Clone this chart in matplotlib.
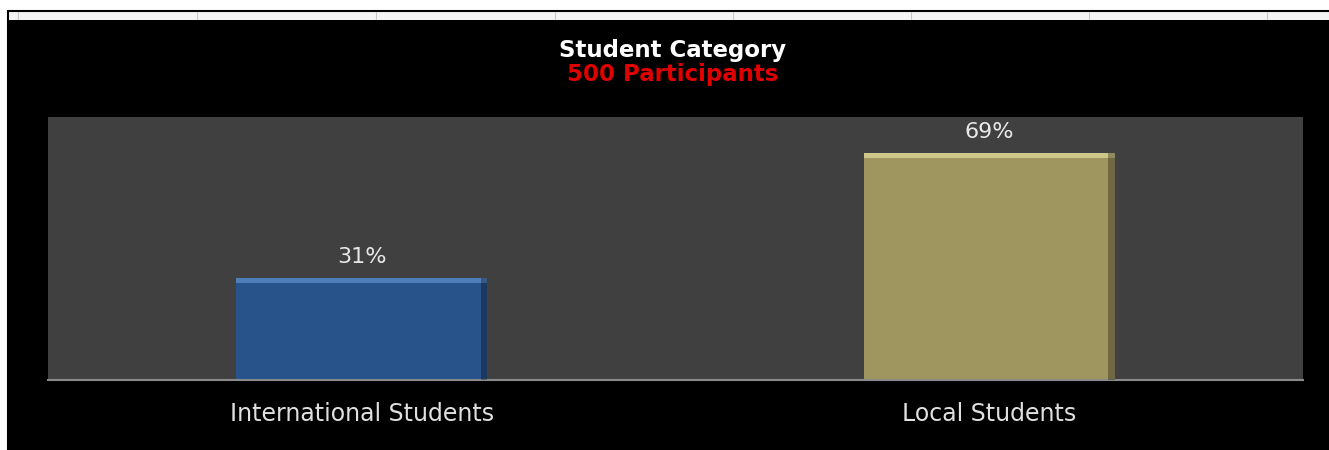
import numpy as np
import matplotlib.pyplot as plt
from matplotlib.patches import Rectangle
from matplotlib.lines import Line2D

categories = ["International Students", "Local Students"]
shares = [31, 69]
bar_colors = ["#27538a", "#9f955e"]
bevel_colors = ["#4f7fbb", "#cfc68a"]
title = "Student Category"
subtitle = "500 Participants"

W, H = 1329, 450
plt.rcParams['font.family'] = ['DejaVu Sans']

fig = plt.figure(figsize=(W / 100, H / 100), dpi=100)
fig.patch.set_facecolor("white")

# sheet strip at top with cell gridlines, then the black chart frame
fig.patches.append(Rectangle((8 / W, 0), 1, (H - 11) / H, transform=fig.transFigure,
                             facecolor="#f4f4f4", edgecolor="black", lw=1.5, zorder=-3))
for gx in [18, 197, 376, 555, 733, 911, 1089, 1267]:
    fig.lines.append(Line2D([gx / W, gx / W], [(H - 19) / H, (H - 12) / H],
                            transform=fig.transFigure, color="#c8c8c8", lw=0.8, zorder=-2))
fig.patches.append(Rectangle((9 / W, 0), 1, (H - 20) / H, transform=fig.transFigure,
                             facecolor="black", edgecolor="none", zorder=-1))

ax = fig.add_axes([48 / W, (H - 380) / H, (1303 - 48) / W, (380 - 117) / H])
ax.set_zorder(1)
ax.set_facecolor("#404040")

x = np.arange(len(categories))
width = 0.4
ax.bar(x, shares, width=width, color=bar_colors, edgecolor="none", zorder=2)
# bevelled top edge and darker right side
ax.bar(x, [1.6] * len(x), bottom=np.array(shares) - 1.6, width=width,
       color=bevel_colors, edgecolor="none", zorder=3)
ax.bar(x + width / 2 - 0.005, shares, width=0.01, color="black", alpha=0.3,
       edgecolor="none", zorder=3)

for xi, v in zip(x, shares):
    ax.text(xi, v + 3.5, f"{v}%", ha="center", va="bottom", color="#e8e8e8", fontsize=16)

ax.set_xlim(-0.5, 1.5)
ax.set_ylim(0, 80)
ax.set_yticks([])
ax.set_xticks(x)
ax.set_xticklabels(categories, color="#e0e0e0", fontsize=17)
ax.tick_params(axis="x", length=0, pad=16)
for side in ["top", "right", "left"]:
    ax.spines[side].set_visible(False)
ax.spines["bottom"].set_color("#8a8a8a")
ax.spines["bottom"].set_linewidth(1.5)

fig.text(673 / W, (H - 50) / H, title, ha="center", va="center",
         color="white", fontsize=16.5, fontweight="bold")
fig.text(673 / W, (H - 75) / H, subtitle, ha="center", va="center",
         color="#e00000", fontsize=16.5, fontweight="bold")

fig.savefig("out.png", dpi=100, facecolor=fig.get_facecolor())
